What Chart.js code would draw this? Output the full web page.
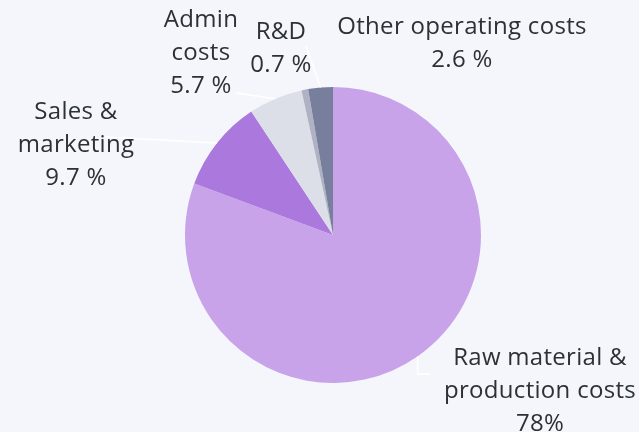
<!DOCTYPE html>
<html>
<head>
<meta charset="utf-8">
<script src="https://cdn.jsdelivr.net/npm/chart.js@4/dist/chart.umd.min.js"></script>
<style>
  html, body { margin: 0; padding: 0; background: #f5f6fb; }
  #wrap { width: 639px; height: 432px; position: relative; }
</style>
</head>
<body>
<div id="wrap"><canvas id="costChart"></canvas></div>
<script>
// data
const categories = ['Raw material & production costs', 'Sales & marketing', 'Admin costs', 'R&D', 'Other operating costs'];
const shares = [78, 9.7, 5.7, 0.7, 2.6];
const shareLabels = ['78%', '9.7 %', '5.7 %', '0.7 %', '2.6 %'];
const colors = ['#c9a3ea', '#ab79de', '#dcdfe7', '#aeb2c3', '#777f9d'];

// label layout: text lines, label centre, leader line end
const labelLayout = [
  { lines: ['Raw material &', 'production costs'], x: 540, y: 358, lead: [[418, 374], [430, 374]] },
  { lines: ['Sales &', 'marketing'], x: 76, y: 112, lead: [[105, 137]] },
  { lines: ['Admin', 'costs'], x: 201, y: 20, lead: [[236, 93]] },
  { lines: ['R&D'], x: 281, y: 32, lead: null },
  { lines: ['Other operating costs'], x: 462, y: 27, lead: [[306, 46]] },
];

const pieLabels = {
  id: 'pieLabels',
  afterDatasetsDraw(chart) {
    const ctx = chart.ctx;
    const arcs = chart.getDatasetMeta(0).data;
    ctx.save();
    // leader lines
    ctx.strokeStyle = '#ffffff';
    ctx.lineWidth = 1.5;
    arcs.forEach((arc, i) => {
      const lay = labelLayout[i];
      if (!lay.lead) return;
      const mid = (arc.startAngle + arc.endAngle) / 2;
      const sx = arc.x + Math.cos(mid) * arc.outerRadius;
      const sy = arc.y + Math.sin(mid) * arc.outerRadius;
      ctx.beginPath();
      ctx.moveTo(sx, sy);
      lay.lead.forEach(p => ctx.lineTo(p[0], p[1]));
      ctx.stroke();
    });
    // texts
    ctx.fillStyle = '#2b3137';
    ctx.font = '24px "Open Sans"';
    ctx.letterSpacing = '0.3px';
    ctx.textAlign = 'center';
    ctx.textBaseline = 'middle';
    labelLayout.forEach((lay, i) => {
      const lines = lay.lines.concat([shareLabels[i]]);
      lines.forEach((t, k) => ctx.fillText(t, lay.x, lay.y + k * 33));
    });
    ctx.restore();
  }
};

new Chart(document.getElementById('costChart'), {
  type: 'pie',
  data: {
    labels: categories,
    datasets: [{
      data: shares,
      backgroundColor: colors,
      borderWidth: 0,
    }],
  },
  options: {
    responsive: true,
    maintainAspectRatio: false,
    animation: false,
    layout: { padding: { top: 87, bottom: 49, left: 50, right: 23 } },
    plugins: {
      legend: { display: false },
      tooltip: { enabled: false },
    },
  },
  plugins: [pieLabels],
});
</script>
</body>
</html>
